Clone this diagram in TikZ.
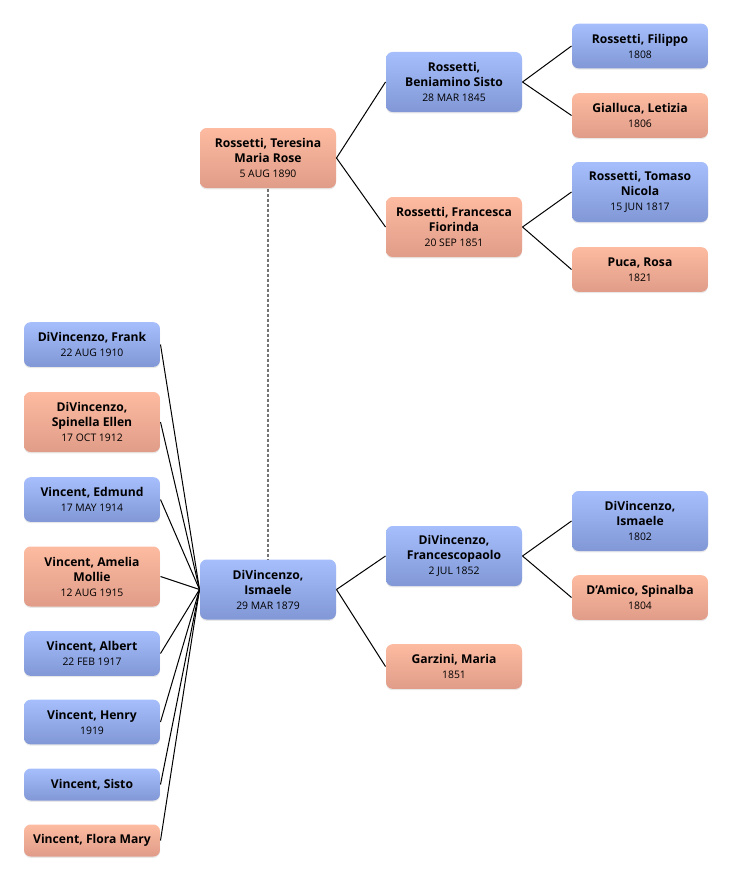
\documentclass[tikz,border=0pt]{standalone}
\usepackage{fontspec}
\setmainfont{Open Sans}
\usetikzlibrary{shadows}

\definecolor{bluetop}{RGB}{166,191,252}
\definecolor{bluebot}{RGB}{129,151,214}
\definecolor{pinktop}{RGB}{253,187,161}
\definecolor{pinkbot}{RGB}{224,156,136}
\definecolor{dashgray}{RGB}{115,115,115}

\newcommand{\datefont}{\fontsize{7.8}{10.3}\selectfont\mdseries}

\tikzset{every picture/.style={line width=0.75pt}}
\tikzset{
  person/.style={rounded corners=5pt, minimum width=102pt, inner sep=0pt,
    align=center, font=\fontsize{9.1}{11.25}\selectfont\bfseries,
    drop shadow={shadow xshift=0pt, shadow yshift=-1pt, opacity=0.18}},
  man/.style={person, top color=bluetop, bottom color=bluebot},
  woman/.style={person, top color=pinktop, bottom color=pinkbot},
  tallbox/.style={minimum height=45pt},
  midbox/.style={minimum height=33.5pt},
  lowbox/.style={minimum height=24pt}
}

\begin{document}
\begin{tikzpicture}[x=0.75pt,y=0.75pt,yscale=-1,xscale=1]
\useasboundingbox (0,0) rectangle (732,881);

% Parents of Ismaele
\draw (268,158) node [woman,tallbox] (teresina) {Rossetti, Teresina\\Maria Rose\\\datefont 5 AUG 1890};
\draw (268,589.5) node [man,tallbox] (ismaele) {DiVincenzo,\\Ismaele\\\datefont 29 MAR 1879};

% Rossetti side
\draw (454,82) node [man,tallbox] (beniamino) {Rossetti,\\Beniamino Sisto\\\datefont 28 MAR 1845};
\draw (454,227) node [woman,tallbox] (francesca) {Rossetti, Francesca\\Fiorinda\\\datefont 20 SEP 1851};
\draw (640,46) node [man,midbox] (filippo) {Rossetti, Filippo\\\datefont 1808};
\draw (640,115.5) node [woman,midbox] (letizia) {Gialluca, Letizia\\\datefont 1806};
\draw (640,192) node [man,tallbox] (tomaso) {Rossetti, Tomaso\\Nicola\\\datefont 15 JUN 1817};
\draw (640,269.5) node [woman,midbox] (puca) {Puca, Rosa\\\datefont 1821};

% DiVincenzo side
\draw (454,556) node [man,tallbox] (francescopaolo) {DiVincenzo,\\Francescopaolo\\\datefont 2 JUL 1852};
\draw (454,666.5) node [woman,midbox] (garzini) {Garzini, Maria\\\datefont 1851};
\draw (640,521) node [man,tallbox] (ismaeleold) {DiVincenzo,\\Ismaele\\\datefont 1802};
\draw (640,597.5) node [woman,midbox] (damico) {D'Amico, Spinalba\\\datefont 1804};

% Children
\draw (92,344.5) node [man,midbox] (frank) {DiVincenzo, Frank\\\datefont 22 AUG 1910};
\draw (92,422) node [woman,tallbox] (spinella) {DiVincenzo,\\Spinella Ellen\\\datefont 17 OCT 1912};
\draw (92,499.5) node [man,midbox] (edmund) {Vincent, Edmund\\\datefont 17 MAY 1914};
\draw (92,576.5) node [woman,tallbox] (amelia) {Vincent, Amelia\\Mollie\\\datefont 12 AUG 1915};
\draw (92,653.5) node [man,midbox] (albert) {Vincent, Albert\\\datefont 22 FEB 1917};
\draw (92,722) node [man,midbox] (henry) {Vincent, Henry\\\datefont 1919};
\draw (92,784.5) node [man,lowbox] (sisto) {Vincent, Sisto};
\draw (92,840.5) node [woman,lowbox] (flora) {Vincent, Flora Mary};

% Connectors
\draw [dashgray, line width=1.3pt, dash pattern=on 2.25pt off 1.5pt] (teresina.south) -- (ismaele.north);
\draw (teresina.east) -- (beniamino.west);
\draw (teresina.east) -- (francesca.west);
\draw (beniamino.east) -- (filippo.west);
\draw (beniamino.east) -- (letizia.west);
\draw (francesca.east) -- (tomaso.west);
\draw (francesca.east) -- (puca.west);
\draw (ismaele.east) -- (francescopaolo.west);
\draw (ismaele.east) -- (garzini.west);
\draw (francescopaolo.east) -- (ismaeleold.west);
\draw (francescopaolo.east) -- (damico.west);
\foreach \kid in {frank,spinella,edmund,amelia,albert,henry,sisto,flora}
  \draw (ismaele.west) -- (\kid.east);

\end{tikzpicture}
\end{document}
